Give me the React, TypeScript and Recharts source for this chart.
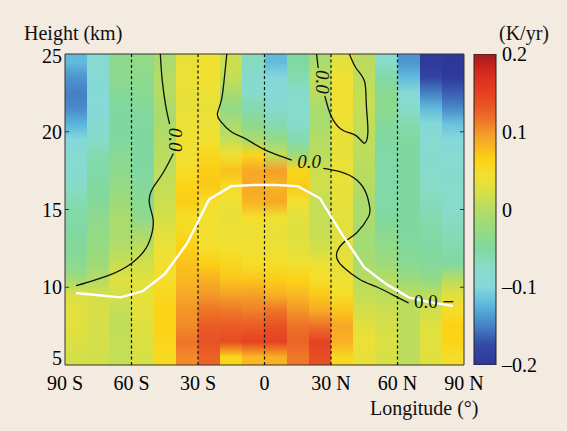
import { ComposedChart, XAxis, YAxis, Line, Bar, ReferenceArea, ReferenceLine, ReferenceDot } from "recharts"

const FONT = "'Liberation Serif', 'Times New Roman', serif"

// column centres (deg) and row centres (km, top to bottom)
const longitudes = [-85, -75, -65, -55, -45, -35, -25, -15, -5, 5, 15, 25, 35, 45, 55, 65, 75, 85]
const heightLevels = [24.5, 23.5, 22.5, 21.5, 20.5, 19.5, 18.5, 17.5, 16.5, 15.5, 14.5, 13.5, 12.5, 11.5, 10.5, 9.5, 8.5, 7.5, 6.5, 5.5]

// temperature trend (K/yr), one list per longitude column, top to bottom
const trendColumns = [
  [-0.12, -0.14, -0.15, -0.145, -0.125, -0.1, -0.09, -0.085, -0.08, -0.06, -0.055, -0.05, -0.045, -0.04, -0.015, 0.025, 0.03, 0.03, 0.025, 0.02],
  [-0.09, -0.09, -0.095, -0.095, -0.085, -0.08, -0.06, -0.055, -0.05, -0.045, -0.035, -0.03, -0.025, -0.02, 0.0, 0.02, 0.022, 0.02, 0.02, 0.018],
  [-0.035, -0.035, -0.045, -0.05, -0.05, -0.05, -0.04, -0.035, -0.03, -0.02, -0.01, -0.01, 0.0, 0.012, 0.028, 0.02, 0.01, 0.008, 0.01, 0.01],
  [-0.03, -0.035, -0.04, -0.045, -0.05, -0.05, -0.05, -0.05, -0.045, -0.04, -0.035, -0.01, 0.005, 0.018, 0.028, 0.035, 0.032, 0.028, 0.025, 0.022],
  [-0.01, 0.0, 0.0, -0.008, -0.008, 0.0, 0.003, 0.006, 0.01, 0.015, 0.02, 0.03, 0.04, 0.045, 0.05, 0.058, 0.063, 0.063, 0.06, 0.055],
  [0.035, 0.04, 0.035, 0.035, 0.04, 0.043, 0.045, 0.05, 0.062, 0.068, 0.05, 0.057, 0.065, 0.075, 0.08, 0.09, 0.1, 0.105, 0.115, 0.105],
  [0.043, 0.045, 0.04, 0.035, 0.04, 0.045, 0.058, 0.068, 0.07, 0.05, 0.043, 0.045, 0.05, 0.066, 0.085, 0.098, 0.115, 0.13, 0.135, 0.125],
  [0.015, 0.01, -0.01, -0.03, -0.01, 0.01, 0.043, 0.075, 0.052, 0.04, 0.035, 0.04, 0.045, 0.057, 0.072, 0.095, 0.113, 0.13, 0.14, 0.06],
  [-0.07, -0.085, -0.08, -0.06, -0.035, -0.01, 0.06, 0.09, 0.09, 0.083, 0.048, 0.04, 0.043, 0.05, 0.072, 0.095, 0.11, 0.13, 0.148, 0.08],
  [-0.12, -0.1, -0.095, -0.085, -0.06, -0.03, 0.01, 0.095, 0.083, 0.09, 0.043, 0.035, 0.04, 0.05, 0.068, 0.085, 0.115, 0.137, 0.148, 0.085],
  [-0.05, -0.06, -0.08, -0.08, -0.08, -0.06, -0.02, 0.06, 0.07, 0.045, 0.03, 0.028, 0.03, 0.043, 0.063, 0.08, 0.1, 0.117, 0.125, 0.113],
  [-0.01, 0.005, 0.003, -0.01, -0.01, 0.0, 0.005, 0.015, 0.018, 0.01, 0.01, 0.012, 0.02, 0.04, 0.05, 0.07, 0.09, 0.117, 0.148, 0.138],
  [0.032, 0.04, 0.045, 0.043, 0.04, 0.035, 0.035, 0.04, 0.035, 0.035, 0.032, 0.028, 0.03, 0.035, 0.04, 0.05, 0.072, 0.09, 0.085, 0.057],
  [0.003, 0.005, 0.01, 0.01, 0.008, 0.005, 0.005, 0.003, 0.0, -0.008, -0.008, -0.015, -0.015, -0.01, 0.003, 0.01, 0.02, 0.03, 0.04, 0.035],
  [-0.08, -0.055, -0.04, -0.035, -0.045, -0.05, -0.055, -0.055, -0.055, -0.055, -0.05, -0.04, -0.03, -0.02, 0.0, 0.005, 0.015, 0.02, 0.025, 0.022],
  [-0.14, -0.12, -0.095, -0.08, -0.06, -0.05, -0.05, -0.05, -0.05, -0.05, -0.05, -0.05, -0.045, -0.04, -0.02, 0.003, 0.005, 0.005, 0.005, 0.005],
  [-0.195, -0.18, -0.15, -0.12, -0.095, -0.09, -0.085, -0.08, -0.075, -0.07, -0.06, -0.055, -0.05, -0.045, -0.03, 0.005, 0.018, 0.028, 0.03, 0.028],
  [-0.2, -0.195, -0.165, -0.145, -0.115, -0.1, -0.09, -0.085, -0.08, -0.08, -0.075, -0.065, -0.06, -0.05, 0.003, 0.03, 0.05, 0.065, 0.063, 0.05],
]

const xTicks = [-90, -60, -30, 0, 30, 60, 90]
const xTickLabels = ["90 S", "60 S", "30 S", "0", "30 N", "60 N", "90 N"]
const yTicks = [5, 10, 15, 20, 25]
const colorTicks = [-0.2, -0.1, 0, 0.1, 0.2]
const colorRange = [{ name: "K/yr", range: [-0.2, 0.2] }]

// tropopause (white)
const tropopause = [
  { x: -85, y: 9.63 }, { x: -75, y: 9.49 }, { x: -65, y: 9.35 }, { x: -55, y: 9.75 }, { x: -45, y: 10.85 },
  { x: -35, y: 12.8 }, { x: -25, y: 15.65 }, { x: -15, y: 16.5 }, { x: -5, y: 16.58 }, { x: 5, y: 16.58 },
  { x: 15, y: 16.5 }, { x: 25, y: 15.72 }, { x: 35, y: 13.4 }, { x: 45, y: 11.28 }, { x: 55, y: 10.2 },
  { x: 65, y: 9.35 }, { x: 75, y: 9.03 }, { x: 85, y: 8.8 },
]

// zero contours, split where the labels sit
const zeroContours = [
  [{ x: -47, y: 25 }, { x: -46.2, y: 23.4 }, { x: -44.6, y: 21.7 }, { x: -42.8, y: 20.5 }],
  [
    { x: -41.1, y: 18.6 }, { x: -46, y: 17.3 }, { x: -50.3, y: 16.4 }, { x: -52, y: 15.5 }, { x: -50.4, y: 14.5 },
    { x: -50.6, y: 13.6 }, { x: -53.5, y: 12.5 }, { x: -59.9, y: 11.55 }, { x: -69.7, y: 10.8 }, { x: -85, y: 10.1 },
  ],
  [
    { x: -17, y: 25 }, { x: -18.3, y: 23.2 }, { x: -19.5, y: 22 }, { x: -21.2, y: 21.2 }, { x: -20, y: 20.7 },
    { x: -15, y: 20 }, { x: -10, y: 19.65 }, { x: -5, y: 19.25 }, { x: 0, y: 18.85 }, { x: 6, y: 18.5 }, { x: 12.3, y: 18.18 },
  ],
  [
    { x: 26.5, y: 17.65 }, { x: 34, y: 17.43 }, { x: 41.6, y: 16.9 }, { x: 46, y: 16 }, { x: 47.5, y: 15.1 },
    { x: 46.8, y: 14.5 }, { x: 41.6, y: 13.5 }, { x: 36.3, y: 12.95 }, { x: 32.8, y: 12.3 }, { x: 32.8, y: 11.8 },
    { x: 35.5, y: 11.3 }, { x: 43, y: 10.5 }, { x: 51, y: 10.0 }, { x: 60, y: 9.35 }, { x: 65, y: 9.0 },
  ],
  [{ x: 80.7, y: 9.07 }, { x: 85.2, y: 9.07 }],
  [{ x: 23.5, y: 25 }, { x: 24.2, y: 24.1 }],
  [
    { x: 27.2, y: 22.3 }, { x: 29, y: 21.4 }, { x: 31, y: 20.75 }, { x: 35.3, y: 20.1 }, { x: 41.3, y: 19.75 },
    { x: 45, y: 19.26 }, { x: 46.6, y: 19.86 }, { x: 46.3, y: 21 }, { x: 45.8, y: 22.2 }, { x: 45, y: 23.3 },
    { x: 41.3, y: 24.1 }, { x: 38.3, y: 25 },
  ],
]

const contourLabels = [
  { x: -40, y: 19.5, angle: 90, italic: true },
  { x: 20.1, y: 18.07, angle: 0, italic: true },
  { x: 26, y: 23.2, angle: 90, italic: true },
  { x: 72.8, y: 9.1, angle: 0, italic: false },
]

// colour map (value -> colour)
const colorStops: [number, string][] = [
  [-0.2, "#2D3899"], [-0.175, "#3448A4"], [-0.15, "#4580C4"], [-0.125, "#5AB4DE"], [-0.1, "#84D8DA"],
  [-0.075, "#88DCC6"], [-0.05, "#80D8A0"], [-0.025, "#98DA80"], [0, "#B4DC64"], [0.025, "#DCE042"],
  [0.045, "#F2E030"], [0.065, "#FCD214"], [0.08, "#F9B822"], [0.095, "#F5A028"], [0.115, "#EE7428"],
  [0.135, "#E85224"], [0.15, "#E64022"], [0.175, "#D82A20"], [0.2, "#A51A1A"],
]

function rgb(hex: string) {
  const n = parseInt(hex.slice(1), 16)
  return [(n >> 16) & 255, (n >> 8) & 255, n & 255]
}

function colorFor(v: number) {
  if (v <= colorStops[0][0]) return colorStops[0][1]
  for (let i = 1; i < colorStops.length; i++) {
    const [v1, c1] = colorStops[i]
    if (v <= v1) {
      const [v0, c0] = colorStops[i - 1]
      const t = (v - v0) / (v1 - v0)
      const a = rgb(c0), b = rgb(c1)
      return `rgb(${a.map((k, j) => Math.round(k + (b[j] - k) * t)).join(",")})`
    }
  }
  return colorStops[colorStops.length - 1][1]
}

const crispRect = (p: any) => (
  <rect x={p.x} y={p.y} width={p.width} height={p.height} fill={p.fill} shapeRendering="crispEdges" />
)

const tickStyle = { fill: "#000", fontSize: 20, fontFamily: FONT }

// height ticks: the end labels are nudged inside like the original
function HeightTick(p: any) {
  const v = p.payload.value
  const shift = v === 5 ? -7 : v === 25 ? 2 : 0
  return (
    <text x={p.x} y={p.y + shift} dy="0.355em" textAnchor="end" fill="#000" fontSize={20} fontFamily={FONT}>
      {v}
    </text>
  )
}

function Heatmap() {
  return (
    <ComposedChart width={567} height={431} margin={{ top: 54, right: 103, bottom: 36, left: 0 }}>
      <defs>
        {longitudes.map((lon, i) => (
          <linearGradient key={lon} id={`col${i}`} x1="0" y1="0" x2="0" y2="1">
            {heightLevels.map((h, j) => (
              <stop key={h} offset={(25 - h) / 20} stopColor={colorFor(trendColumns[i][j])} />
            ))}
          </linearGradient>
        ))}
      </defs>
      <XAxis
        dataKey="x"
        type="number"
        domain={[-90, 90]}
        ticks={xTicks}
        interval={0}
        tickFormatter={(v) => xTickLabels[xTicks.indexOf(v)]}
        height={30}
        axisLine={false}
        tickLine={false}
        tickSize={0}
        tickMargin={11}
        tick={tickStyle}
        allowDataOverflow
      />
      <YAxis
        type="number"
        domain={[5, 25]}
        ticks={yTicks}
        interval={0}
        width={65}
        axisLine={false}
        tickLine={false}
        tickSize={0}
        tickMargin={3}
        tick={<HeightTick />}
        allowDataOverflow
      />

      {longitudes.map((lon, i) => (
        <ReferenceArea
          key={lon}
          x1={lon - 5}
          x2={lon + 5}
          y1={5}
          y2={25}
          fill={`url(#col${i})`}
          fillOpacity={1}
          ifOverflow="visible"
          shape={crispRect}
        />
      ))}

      {xTicks.slice(1, -1).map((v) => (
        <ReferenceLine key={v} x={v} stroke="#111" strokeWidth={1.2} strokeDasharray="3 2.5" />
      ))}

      {yTicks.slice(1, -1).map((h) => (
        <ReferenceLine key={`l${h}`} segment={[{ x: -90, y: h }, { x: -88.2, y: h }]} stroke="#333" />
      ))}
      {yTicks.slice(1, -1).map((h) => (
        <ReferenceLine key={`r${h}`} segment={[{ x: 88.2, y: h }, { x: 90, y: h }]} stroke="#333" />
      ))}

      {zeroContours.map((c, i) => (
        <Line
          key={i}
          data={c}
          dataKey="y"
          type="natural"
          stroke="#111"
          strokeWidth={1.3}
          dot={false}
          activeDot={false}
          isAnimationActive={false}
        />
      ))}
      <Line
        data={tropopause}
        dataKey="y"
        type="linear"
        stroke="#fff"
        strokeWidth={2.4}
        dot={false}
        activeDot={false}
        isAnimationActive={false}
      />

      {contourLabels.map((l, i) => (
        <ReferenceDot
          key={i}
          x={l.x}
          y={l.y}
          r={0}
          shape={(p: any) => (
            <text
              x={p.cx}
              y={p.cy}
              textAnchor="middle"
              dominantBaseline="central"
              fontFamily={FONT}
              fontSize={19}
              fontStyle={l.italic ? "italic" : "normal"}
              fill="#111"
              transform={`rotate(${l.angle}, ${p.cx}, ${p.cy})`}
            >
              0.0
            </text>
          )}
        />
      ))}

      <ReferenceArea x1={-90} x2={90} y1={5} y2={25} fill="none" stroke="#333" strokeWidth={1} ifOverflow="visible" />
    </ComposedChart>
  )
}

function ColorBar() {
  // gradient stops must run top (0.2) to bottom (-0.2)
  const stopsTopDown = [...colorStops].reverse()
  return (
    <ComposedChart
      width={107}
      height={431}
      data={colorRange}
      margin={{ top: 54, right: 0, bottom: 66, left: 14 }}
      barCategoryGap={0}
    >
      <defs>
        <linearGradient id="cbar" x1="0" y1="0" x2="0" y2="1">
          {stopsTopDown.map(([v, c]) => (
            <stop key={v} offset={(0.2 - v) / 0.4} stopColor={c} />
          ))}
        </linearGradient>
      </defs>
      <XAxis dataKey="name" type="category" hide />
      <YAxis
        type="number"
        orientation="right"
        domain={[-0.2, 0.2]}
        ticks={colorTicks}
        interval={0}
        width={71}
        axisLine={false}
        tickLine={false}
        tickSize={0}
        tickMargin={6}
        tick={tickStyle}
        tickFormatter={(v) => (v === 0 ? "0" : (v < 0 ? "\u2013" : "") + Math.abs(v).toFixed(1))}
        allowDataOverflow
      />
      <Bar dataKey="range" fill="url(#cbar)" stroke="#222" strokeWidth={1} isAnimationActive={false} />
    </ComposedChart>
  )
}

export default function App() {
  const label = { position: "absolute" as const, fontFamily: FONT, fontSize: 20, lineHeight: "20px", color: "#111", whiteSpace: "nowrap" as const }
  return (
    <div style={{ position: "absolute", left: 0, top: 0, width: 567, height: 431, background: "#F3EAE0", overflow: "hidden" }}>
      <div style={{ position: "absolute", left: 0, top: 0 }}>
        <Heatmap />
      </div>
      <div style={{ position: "absolute", left: 460, top: 0 }}>
        <ColorBar />
      </div>
      <div style={{ ...label, left: 24, top: 23 }}>Height (km)</div>
      <div style={{ ...label, left: 499, top: 23 }}>(K/yr)</div>
      <div style={{ ...label, left: 370, top: 398 }}>Longitude (°)</div>
    </div>
  )
}
